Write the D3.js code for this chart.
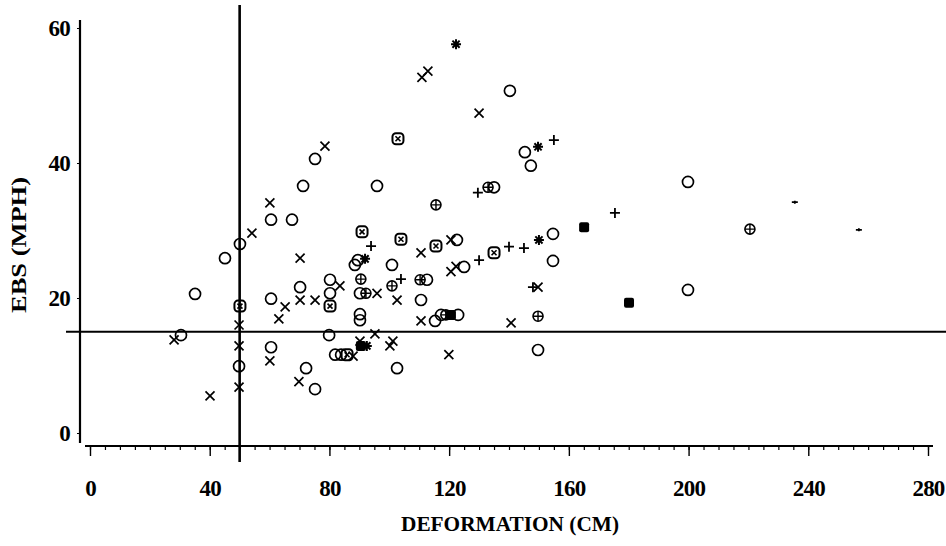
<!DOCTYPE html>
<html>
<head>
<meta charset="utf-8">
<script src="https://cdn.jsdelivr.net/npm/d3@7"></script>
<style>
  body { margin: 0; background: #fff; }
  text { font-family: "Liberation Serif", "DejaVu Serif", serif; font-weight: bold; fill: #000; }
</style>
</head>
<body>
<div id="chart"></div>
<script>
const w = 946
const h = 546

// [deformation cm, ebs mph]
const circles = [[30.4,14.5],[35.1,20.6],[45.1,25.9],[50.1,28.0],[49.8,9.9],[60.5,31.6],[67.5,31.6],[60.5,19.9],[60.5,12.7],
  [71.2,36.6],[75.2,40.6],[70.2,21.6],[72.2,9.6],[75.2,6.5],[80.2,22.7],[80.2,20.7],[79.9,14.5],[81.9,11.6],[83.9,11.6],
  [88.5,24.9],[89.5,25.6],[90.2,20.7],[90.2,17.6],[90.2,16.7],[95.9,36.6],[100.9,24.9],[102.6,9.6],[110.6,19.7],[112.6,22.7],
  [115.3,16.6],[117.3,17.5],[123.0,17.5],[122.6,28.6],[125.0,24.6],[135.0,36.4],[140.3,50.7],[145.3,41.6],[147.3,39.6],
  [149.7,12.3],[154.7,29.5],[154.7,25.5],[199.8,37.2],[199.8,21.2]]
const crosses = [[28.1,13.8],[40.1,5.5],[49.8,16.0],[49.8,12.9],[49.8,6.8],[54.1,29.6],[60.1,34.1],[60.1,10.7],[63.1,16.9],
  [65.2,18.7],[69.8,7.6],[70.2,25.9],[70.2,19.7],[75.2,19.7],[78.5,42.5],[83.5,21.8],[87.9,11.4],[90.2,13.6],[95.2,14.7],
  [95.9,20.7],[100.2,12.9],[101.2,13.6],[102.6,19.7],[110.6,26.7],[110.6,16.6],[110.9,52.7],[112.9,53.6],[119.9,11.6],
  [120.6,28.6],[120.6,23.9],[122.3,24.7],[130.0,47.4],[140.7,16.3],[149.7,21.6]]
const pluses = [[93.9,27.7],[103.9,22.8],[129.6,35.6],[130.0,25.6],[140.0,27.6],[145.0,27.4],[148.0,21.6],[155.0,43.4],[175.4,32.6]]
const smallPluses = [[235.5,34.2],[256.9,30.1]]
const circlePluses = [[90.5,22.8],[92.2,20.7],[100.9,21.8],[110.3,22.7],[115.6,33.8],[118.9,17.5],[133.0,36.4],[149.7,17.3],[220.5,30.2]]
const boxCrosses = [[50.1,18.8],[80.2,18.8],[85.9,11.6],[90.9,29.8],[102.9,43.6],[103.9,28.7],[115.6,27.7],[135.0,26.7]]
const stars = [[91.9,25.8],[92.5,12.9],[122.3,57.6],[149.7,42.4],[150.0,28.6]]
const squares = [[90.5,12.9],[120.6,17.5],[165.1,30.5],[180.1,19.3]]

const xTicks = [0, 40, 80, 120, 160, 200, 240, 280]
const yTicks = [0, 20, 40, 60]
const refX = 50
const refY = 15

const xScale = d3.scaleLinear().domain([0, 280]).range([90, 928])
const yScale = d3.scaleLinear().domain([0, 60]).range([433, 28])
const axisY = 446

const svg = d3.select('#chart')
    .append('svg')
    .attr('width', w)
    .attr('height', h)

// x axis: minor then major ticks
svg.append('g')
    .attr('transform', `translate(0, ${axisY})`)
    .call(d3.axisBottom(xScale).tickValues(d3.range(0, 281, 5)).tickSize(4).tickFormat(''))
    .call(g => g.select('.domain').remove())
    .selectAll('line').attr('stroke-width', 1.2)

svg.append('g')
    .attr('transform', `translate(0, ${axisY})`)
    .call(d3.axisBottom(xScale).tickValues(xTicks).tickSize(10).tickPadding(24).tickSizeOuter(0))
    .call(g => g.select('.domain').remove())
    .call(g => g.selectAll('line').attr('stroke-width', 1.4))
    .call(g => g.selectAll('text').attr('font-size', 23).style('letter-spacing', '-0.8px'))

svg.append('line')
    .attr('x1', 85).attr('x2', 933)
    .attr('y1', axisY).attr('y2', axisY)
    .attr('stroke', '#000').attr('stroke-width', 2)

// y axis
svg.append('g')
    .attr('transform', 'translate(80, 0)')
    .call(d3.axisLeft(yScale).tickValues(yTicks).tickSize(3).tickPadding(7))
    .call(g => g.select('.domain').remove())
    .call(g => g.selectAll('text').attr('font-size', 23).style('letter-spacing', '-0.8px'))

svg.append('line')
    .attr('x1', 80).attr('x2', 80)
    .attr('y1', 20).attr('y2', 443)
    .attr('stroke', '#000').attr('stroke-width', 2.2)

// reference lines
svg.append('line')
    .attr('x1', xScale(refX)).attr('x2', xScale(refX))
    .attr('y1', 5).attr('y2', 462)
    .attr('stroke', '#000').attr('stroke-width', 2.6)

svg.append('line')
    .attr('x1', 66).attr('x2', w)
    .attr('y1', yScale(refY)).attr('y2', yScale(refY))
    .attr('stroke', '#000').attr('stroke-width', 2.2)

// titles
svg.append('text')
    .attr('x', 510).attr('y', 531)
    .attr('text-anchor', 'middle')
    .attr('font-size', 21)
    .attr('textLength', 218)
    .attr('lengthAdjust', 'spacingAndGlyphs')
    .text('DEFORMATION (CM)')

svg.append('text')
    .attr('transform', 'translate(26, 245) rotate(-90)')
    .attr('text-anchor', 'middle')
    .attr('font-size', 21)
    .attr('textLength', 136)
    .attr('lengthAdjust', 'spacingAndGlyphs')
    .text('EBS (MPH)')

function marks(data, draw) {
    svg.append('g')
        .selectAll('g')
        .data(data)
        .enter()
        .append('g')
        .attr('transform', d => `translate(${xScale(d[0])}, ${yScale(d[1])})`)
        .each(function () { draw(d3.select(this)) })
}

const ink = sel => sel.attr('fill', 'none').attr('stroke', '#000')

marks(circles, g => ink(g.append('circle').attr('r', 5.5)).attr('stroke-width', 1.7))
marks(crosses, g => ink(g.append('path').attr('d', 'M-4.5,-4.5L4.5,4.5M-4.5,4.5L4.5,-4.5')).attr('stroke-width', 1.7))
marks(pluses, g => ink(g.append('path').attr('d', 'M-5,0H5M0,-5V5')).attr('stroke-width', 1.8))
marks(smallPluses, g => ink(g.append('path').attr('d', 'M-3,0H3M0,-1.5V1.5')).attr('stroke-width', 1.8))
marks(circlePluses, g => {
    ink(g.append('circle').attr('r', 5)).attr('stroke-width', 1.6)
    ink(g.append('path').attr('d', 'M-5,0H5M0,-5V5')).attr('stroke-width', 1.4)
})
marks(boxCrosses, g => {
    ink(g.append('rect').attr('x', -5.5).attr('y', -5.5).attr('width', 11).attr('height', 11).attr('rx', 3.5)).attr('stroke-width', 2)
    ink(g.append('path').attr('d', 'M-2.5,-2.5L2.5,2.5M-2.5,2.5L2.5,-2.5')).attr('stroke-width', 1.6)
})
marks(stars, g => ink(g.append('path').attr('d', 'M-5,0H5M0,-5V5M-3.6,-3.6L3.6,3.6M-3.6,3.6L3.6,-3.6')).attr('stroke-width', 2))
marks(squares, g => g.append('rect').attr('x', -5).attr('y', -5).attr('width', 10).attr('height', 10).attr('rx', 2).attr('fill', '#000'))
</script>
</body>
</html>
